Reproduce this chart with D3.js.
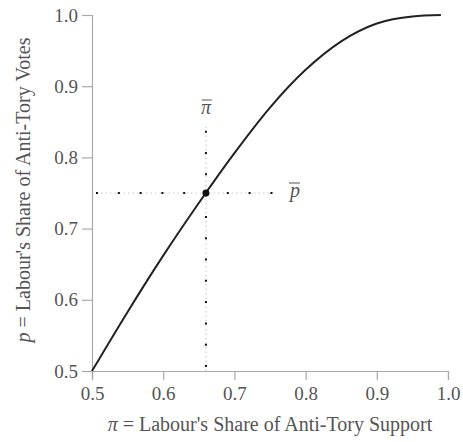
<!DOCTYPE html>
<html>
<head>
<meta charset="utf-8">
<script src="https://cdnjs.cloudflare.com/ajax/libs/d3/7.8.5/d3.min.js"></script>
<style>
  body { margin: 0; background: #fff; }
  svg { display: block; }
  text { font-family: "Liberation Serif", "Times New Roman", serif; fill: #555; }
</style>
</head>
<body>
<div id="chart"></div>
<script>
// curve
var piValues = [0.50, 0.55, 0.60, 0.65, 0.70, 0.75, 0.80, 0.85, 0.90, 0.95, 0.99]
var pValues  = [0.500, 0.583, 0.662, 0.736, 0.806, 0.870, 0.923, 0.963, 0.988, 0.998, 1.000]
var xTicks = [0.5, 0.6, 0.7, 0.8, 0.9, 1.0]
var yTicks = [0.5, 0.6, 0.7, 0.8, 0.9, 1.0]
var piBar = 0.66, pBar = 0.75
var vLineTop = 0.845, hLineEnd = 0.757

var width = 463, height = 442
var margin = {top: 15, right: 15, bottom: 71, left: 92}

var svg = d3.select("#chart").append("svg")
    .attr("width", width)
    .attr("height", height)

var x = d3.scaleLinear().domain([0.5, 1]).range([margin.left, width - margin.right])
var y = d3.scaleLinear().domain([0.5, 1]).range([height - margin.bottom, margin.top])

// axes
var xAxis = d3.axisBottom(x).tickValues(xTicks).tickFormat(d3.format(".1f")).tickSizeOuter(0).tickSize(9).tickPadding(7)
var yAxis = d3.axisLeft(y).tickValues(yTicks).tickFormat(d3.format(".1f")).tickSizeOuter(0).tickSize(10).tickPadding(4)

svg.append("g")
    .attr("transform", "translate(0," + y(0.5) + ")")
    .call(xAxis)
svg.append("g")
    .attr("transform", "translate(" + x(0.5) + ",0)")
    .call(yAxis)

svg.selectAll(".domain, .tick line").attr("stroke", "#aaa").attr("stroke-width", 1.2)
svg.selectAll(".tick text")
    .style("font-family", "Liberation Serif, serif")
    .style("font-size", "19px")
    .attr("fill", "#555")

// axis titles
var xt = svg.append("text")
    .attr("x", 270)
    .attr("y", 431)
    .attr("text-anchor", "middle")
    .style("font-size", "20px")
xt.append("tspan").style("font-style", "italic").text("π")
xt.append("tspan").text(" = Labour's Share of Anti-Tory Support")

var yt = svg.append("text")
    .attr("transform", "translate(30,190) rotate(-90)")
    .attr("text-anchor", "middle")
    .style("font-size", "20px")
yt.append("tspan").style("font-style", "italic").text("p")
yt.append("tspan").text(" = Labour's Share of Anti-Tory Votes")

// dotted guides
function guide(x1, y1, x2, y2, gap, offset) {
    svg.append("line")
        .attr("x1", x1).attr("y1", y1).attr("x2", x2).attr("y2", y2)
        .attr("stroke", "#ccc").attr("stroke-width", 1.2)
        .attr("stroke-dasharray", "1.5,3")
    svg.append("line")
        .attr("x1", x1).attr("y1", y1).attr("x2", x2).attr("y2", y2)
        .attr("stroke", "#111").attr("stroke-width", 2)
        .attr("stroke-dasharray", "2," + gap)
        .attr("stroke-dashoffset", -offset)
}
guide(x(piBar), y(0.5), x(piBar), y(vLineTop), 19.3, 4)
guide(x(0.5), y(pBar), x(hLineEnd), y(pBar), 19.8, 4)

// curve
var line = d3.line()
    .x(function (d, i) { return x(piValues[i]) })
    .y(function (d) { return y(d) })
    .curve(d3.curveMonotoneX)

svg.append("path")
    .datum(pValues)
    .attr("fill", "none")
    .attr("stroke", "#222")
    .attr("stroke-width", 2)
    .attr("d", line)

svg.append("circle")
    .attr("cx", x(piBar))
    .attr("cy", y(pBar))
    .attr("r", 3.5)
    .attr("fill", "#111")

// barred labels
function barLabel(txt, cx, cy) {
    var t = svg.append("text")
        .attr("x", cx).attr("y", cy)
        .attr("text-anchor", "middle")
        .style("font-size", "20px")
        .style("font-style", "italic")
        .text(txt)
    var b = t.node().getBBox()
    svg.append("line")
        .attr("x1", b.x + 1).attr("x2", b.x + b.width)
        .attr("y1", cy - 14).attr("y2", cy - 14)
        .attr("stroke", "#555").attr("stroke-width", 1)
}
barLabel("π", x(piBar), 114)
barLabel("p", 295, 197)
</script>
</body>
</html>
